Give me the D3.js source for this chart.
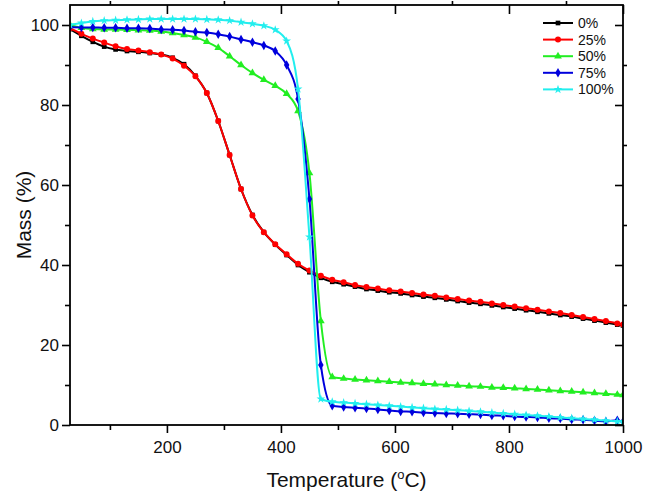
<html>
<head>
<script src="https://d3js.org/d3.v7.min.js"></script>
<style>
  body { margin: 0; background: white; font-family: "Liberation Sans", Arial, sans-serif; }
</style>
</head>
<body>
<script>
// temperature grid (°C)
var temps = [30,50,70,90,110,130,150,170,190,210,230,250,270,290,310,330,350,370,390,410,
  430,450,470,490,510,530,550,570,590,610,630,650,670,690,710,730,750,770,790,810,
  830,850,870,890,910,930,950,970,990,1000];

var mass0 = [99.0,97.3,95.8,94.6,93.9,93.5,93.3,93.0,92.6,91.8,90.2,87.3,83.0,76.0,67.5,59.0,52.5,48.2,45.1,42.5,
  40.0,38.2,36.8,35.8,35.2,34.6,34.0,33.6,33.2,32.9,32.5,32.1,31.8,31.4,31.0,30.6,30.3,29.9,29.5,29.1,
  28.7,28.3,27.9,27.5,27.1,26.6,26.1,25.6,25.1,24.9];
var mass25 = [99.2,97.8,96.6,95.6,94.7,94.0,93.6,93.2,92.6,91.6,89.8,87.2,83.0,76.0,67.5,59.0,52.4,48.2,45.2,42.7,
  40.3,38.6,37.3,36.3,35.7,35.0,34.5,34.1,33.7,33.4,33.0,32.6,32.3,31.9,31.5,31.1,30.8,30.4,30.0,29.6,
  29.2,28.8,28.4,28.0,27.5,27.0,26.5,26.0,25.4,25.1];
var mass50 = [100.0,99.3,99.0,98.9,98.9,98.8,98.7,98.6,98.4,98.0,97.5,96.9,95.8,94.3,92.2,90.0,88.0,86.3,84.8,82.8,
  78.5,63.0,26.0,12.0,11.6,11.4,11.2,11.0,10.8,10.6,10.5,10.3,10.2,10.0,9.9,9.7,9.6,9.4,9.3,9.2,
  9.0,8.9,8.7,8.5,8.4,8.2,8.0,7.8,7.6,7.5];
var mass75 = [99.5,99.4,99.4,99.3,99.3,99.2,99.2,99.1,98.9,98.8,98.6,98.3,98.1,97.7,97.1,96.4,95.7,94.9,93.5,90.0,
  81.5,56.5,15.0,4.8,4.5,4.3,4.1,3.9,3.6,3.4,3.3,3.1,3.0,2.9,2.8,2.7,2.6,2.4,2.3,2.1,
  2.0,1.9,1.7,1.6,1.4,1.3,1.1,0.9,1.2,0.8];
var mass100 = [100.0,100.5,100.9,101.1,101.2,101.3,101.4,101.5,101.5,101.5,101.5,101.5,101.4,101.3,101.1,100.7,100.3,99.8,98.8,96.0,
  84.0,47.0,6.5,5.8,5.6,5.4,5.2,5.0,4.8,4.6,4.4,4.2,4.0,3.9,3.7,3.5,3.3,3.1,2.9,2.7,
  2.5,2.3,2.1,1.9,1.7,1.5,1.3,1.1,0.9,0.8];

var labels = ["0%", "25%", "50%", "75%", "100%"];
var xTicks = [200, 400, 600, 800, 1000];
var yTicks = [0, 20, 40, 60, 80, 100];

var seriesList = [
  { name: labels[0], values: mass0,   color: "#000000", symbol: d3.symbolSquare,   size: 22 },
  { name: labels[1], values: mass25,  color: "#ff0000", symbol: d3.symbolCircle,   size: 28 },
  { name: labels[2], values: mass50,  color: "#22ee22", symbol: d3.symbolTriangle, size: 26 },
  { name: labels[3], values: mass75,  color: "#0000dd", symbol: d3.symbolDiamond,  size: 26 },
  { name: labels[4], values: mass100, color: "#22eeee", symbol: d3.symbolStar,     size: 24 }
];

var width = 645, height = 496;
var pL = 70, pR = 623, pT = 5, pB = 425;

var x = d3.scaleLinear().domain([30, 1000]).range([pL, pR]);
var y = d3.scaleLinear().domain([0, 105]).range([pB, pT]);

var svg = d3.select("body").append("svg")
  .attr("width", width).attr("height", height);

// clip for curves
svg.append("clipPath").attr("id", "plotclip")
  .append("rect").attr("x", pL).attr("y", pT).attr("width", pR - pL).attr("height", pB - pT);

var line = d3.line()
  .x(function(d) { return x(d[0]); })
  .y(function(d) { return y(d[1]); })
  .curve(d3.curveMonotoneX);

var plot = svg.append("g").attr("clip-path", "url(#plotclip)");

seriesList.forEach(function(s) {
  var pts = temps.map(function(t, i) { return [t, s.values[i]]; });
  plot.append("path")
    .attr("d", line(pts))
    .attr("fill", "none")
    .attr("stroke", s.color)
    .attr("stroke-width", 2);
  plot.selectAll(null)
    .data(pts)
    .enter()
    .append("path")
    .attr("d", d3.symbol().type(s.symbol).size(s.size))
    .attr("transform", function(d) { return "translate(" + x(d[0]) + "," + y(d[1]) + ")"; })
    .attr("fill", s.color);
});

// axes
var xMinor = [100, 300, 500, 700, 900];
var yMinor = [10, 30, 50, 70, 90];

svg.append("g").attr("transform", "translate(0," + pB + ")")
  .call(d3.axisBottom(x).tickValues(xTicks).tickSize(8).tickPadding(8).tickFormat(d3.format("d")));
svg.append("g").attr("transform", "translate(0," + pB + ")")
  .call(d3.axisBottom(x).tickValues(xMinor).tickSize(5).tickFormat(""));

svg.append("g").attr("transform", "translate(" + pL + ",0)")
  .call(d3.axisLeft(y).tickValues(yTicks).tickSize(8).tickPadding(3));
svg.append("g").attr("transform", "translate(" + pL + ",0)")
  .call(d3.axisLeft(y).tickValues(yMinor).tickSize(5).tickFormat(""));

svg.append("g").attr("transform", "translate(0," + pT + ")")
  .call(d3.axisBottom(x).tickValues(xTicks).tickSize(9).tickFormat(""));
svg.append("g").attr("transform", "translate(0," + pT + ")")
  .call(d3.axisTop(x).tickValues(xMinor).tickSize(4).tickFormat(""));

svg.append("g").attr("transform", "translate(" + pR + ",0)")
  .call(d3.axisLeft(y).tickValues(yTicks).tickSize(8).tickFormat(""));
svg.append("g").attr("transform", "translate(" + pR + ",0)")
  .call(d3.axisRight(y).tickValues(yMinor).tickSize(4).tickFormat(""));

svg.selectAll(".domain").remove();
svg.selectAll(".tick line").attr("stroke", "#000").attr("stroke-width", 1.6);
svg.selectAll(".tick text")
  .attr("fill", "#111")
  .style("font-family", "'Liberation Sans', Arial, sans-serif")
  .style("font-size", "17px");

// frame
svg.append("rect")
  .attr("x", pL).attr("y", pT)
  .attr("width", pR - pL).attr("height", pB - pT)
  .attr("fill", "none").attr("stroke", "#000").attr("stroke-width", 1.8);

// axis titles
var xt = svg.append("text")
  .attr("x", (pL + pR) / 2).attr("y", 487)
  .attr("text-anchor", "middle")
  .style("font-size", "21px").attr("fill", "#111");
xt.append("tspan").text("Temperature (");
xt.append("tspan").attr("dy", -8).style("font-size", "13px").text("o");
xt.append("tspan").attr("dy", 8).text("C)");

svg.append("text")
  .attr("transform", "translate(31," + ((pT + pB) / 2) + ") rotate(-90)")
  .attr("text-anchor", "middle")
  .style("font-size", "21px").attr("fill", "#111")
  .text("Mass (%)");

// legend
var legend = svg.append("g");
seriesList.forEach(function(s, i) {
  var ly = 23 + i * 16.6;
  legend.append("line")
    .attr("x1", 543).attr("x2", 573).attr("y1", ly).attr("y2", ly)
    .attr("stroke", s.color).attr("stroke-width", 2);
  legend.append("path")
    .attr("d", d3.symbol().type(s.symbol).size(s.size))
    .attr("transform", "translate(558," + ly + ")")
    .attr("fill", s.color);
  legend.append("text")
    .attr("x", 578).attr("y", ly + 5)
    .style("font-size", "14px").attr("fill", "#111")
    .text(s.name);
});
</script>
</body>
</html>
